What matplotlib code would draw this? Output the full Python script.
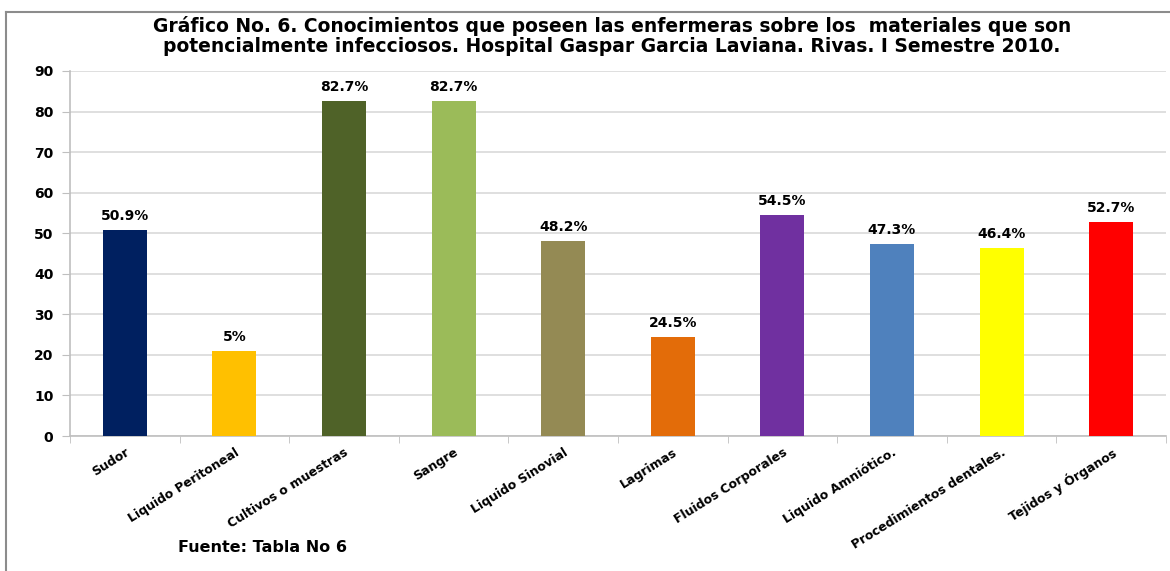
import matplotlib
matplotlib.use("Agg")
import matplotlib.pyplot as plt
from matplotlib.lines import Line2D
import numpy as np

categories = ["Sudor", "Liquido Peritoneal", "Cultivos o muestras", "Sangre",
              "Liquido Sinovial", "Lagrimas", "Fluidos Corporales",
              "Liquido Amniótico.", "Procedimientos dentales.", "Tejidos y Órganos"]
values = [50.9, 20.9, 82.7, 82.7, 48.2, 24.5, 54.5, 47.3, 46.4, 52.7]
value_labels = ["50.9%", "5%", "82.7%", "82.7%", "48.2%", "24.5%", "54.5%",
                "47.3%", "46.4%", "52.7%"]
colors = ["#002060", "#FFC000", "#4F6228", "#9BBB59", "#948A54", "#E36C09",
          "#7030A0", "#4F81BD", "#FFFF00", "#FF0000"]
yticks = [0, 10, 20, 30, 40, 50, 60, 70, 80, 90]

title = ("Gráfico No. 6. Conocimientos que poseen las enfermeras sobre los  materiales que son\n"
         "potencialmente infecciosos. Hospital Gaspar Garcia Laviana. Rivas. I Semestre 2010.")
source = "Fuente: Tabla No 6"

W, H = 1170, 571
fig = plt.figure(figsize=(W / 100, H / 100), dpi=100)
ax = fig.add_axes([70 / W, 1 - 436 / H, (1166 - 70) / W, (436 - 71) / H])

x = np.arange(len(categories))
ax.bar(x, values, width=0.4, color=colors, zorder=3)

for xi, v, lab in zip(x, values, value_labels):
    ax.annotate(lab, (xi, v), xytext=(0, 5), textcoords="offset points",
                ha="center", va="bottom", fontsize=10, fontweight="bold",
                family=["DejaVu Sans"])

ax.set_xlim(-0.5, len(categories) - 0.5)
ax.set_ylim(0, 90)
ax.set_yticks(yticks)
ax.set_yticklabels([str(t) for t in yticks], fontsize=10, fontweight="bold")
ax.yaxis.grid(True, color="#d9d9d9", linewidth=1.2, zorder=0)
ax.set_axisbelow(True)

ax.set_xticks(x)
ax.set_xticklabels(categories, rotation=32, ha="right", va="top",
                   rotation_mode="anchor", fontsize=9, fontweight="bold")
ax.tick_params(axis="x", which="major", length=0, pad=7)
ax.set_xticks(np.arange(len(categories) + 1) - 0.5, minor=True)
ax.tick_params(axis="x", which="minor", length=5, color="#bfbfbf", direction="out")
ax.tick_params(axis="y", length=6, color="#bfbfbf", pad=6)

for s in ["top", "right"]:
    ax.spines[s].set_visible(False)
for s in ["left", "bottom"]:
    ax.spines[s].set_color("#bfbfbf")
    ax.spines[s].set_linewidth(1.2)

fig.text(612 / W, 1 - 36 / H, title, ha="center", va="center", fontsize=13.5,
         fontweight="bold", family=["DejaVu Sans"], linespacing=1.1)
fig.text(178 / W, 1 - 548 / H, source, ha="left", va="center", fontsize=11.5,
         fontweight="bold", family=["DejaVu Sans"])

fig.add_artist(Line2D([6 / W, 1.0], [1 - 12 / H, 1 - 12 / H], transform=fig.transFigure,
                      color="#8c8c8c", linewidth=1.5))
fig.add_artist(Line2D([6 / W, 6 / W], [0, 1 - 12 / H], transform=fig.transFigure,
                      color="#8c8c8c", linewidth=1.5))

fig.savefig("out.png", dpi=100, facecolor="white")
